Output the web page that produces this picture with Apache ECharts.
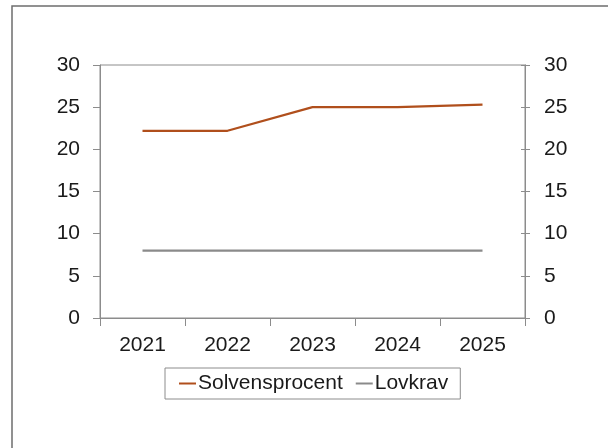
<!DOCTYPE html>
<html>
<head>
<meta charset="utf-8">
<style>
  html, body { margin: 0; padding: 0; background: #fff; }
  #chart { width: 608px; height: 448px; }
</style>
<script src="https://cdn.jsdelivr.net/npm/echarts@6/dist/echarts.min.js"></script>
</head>
<body>
<div id="chart"></div>
<script>
// Solvency ratio versus statutory requirement, 2021-2025
const years = ['2021', '2022', '2023', '2024', '2025'];
const solvensprocent = [22.2, 22.2, 25.0, 25.0, 25.3];
const lovkrav = [8, 8, 8, 8, 8];
const yTicks = { min: 0, max: 30, interval: 5 };

const axisGray = '#8c8c8c';
const font = 'Liberation Sans, Arial, sans-serif';
const labelSize = 21;

const chart = echarts.init(document.getElementById('chart'), null, { renderer: 'canvas' });

const valueAxisBase = {
  type: 'value',
  min: yTicks.min,
  max: yTicks.max,
  interval: yTicks.interval,
  splitLine: { show: false },
  axisLine: { show: true, lineStyle: { color: axisGray, width: 1 } }
};

chart.setOption({
  animation: false,
  backgroundColor: '#fff',
  textStyle: { fontFamily: font },
  grid: {
    left: 100, right: 83, top: 65, bottom: 130,
    show: true, borderColor: axisGray, borderWidth: 1, backgroundColor: 'transparent'
  },
  legend: {
    data: ['Solvensprocent', 'Lovkrav'],
    left: 165, top: 368,
    padding: [5, 12, 5, 14],
    borderColor: '#8c8c8c', borderWidth: 1,
    itemWidth: 17, itemHeight: 2, itemGap: 13,
    icon: 'rect',
    textStyle: { fontFamily: font, fontSize: labelSize, color: '#1a1a1a', padding: [0, 0, 0, -3] }
  },
  xAxis: {
    type: 'category',
    data: years,
    boundaryGap: true,
    axisLine: { show: true, lineStyle: { color: axisGray, width: 1 } },
    axisTick: { show: true, length: 8, inside: false, lineStyle: { color: axisGray } },
    axisLabel: { margin: 17, fontFamily: font, fontSize: labelSize, color: '#1a1a1a' }
  },
  yAxis: [
    Object.assign({}, valueAxisBase, {
      position: 'left',
      axisTick: { show: true, length: 7, inside: false, lineStyle: { color: axisGray } },
      axisLabel: { margin: 20, fontFamily: font, fontSize: labelSize, color: '#1a1a1a' }
    }),
    Object.assign({}, valueAxisBase, {
      position: 'right',
      axisTick: { show: true, length: 5, inside: false, lineStyle: { color: axisGray } },
      axisLabel: { margin: 19, fontFamily: font, fontSize: labelSize, color: '#1a1a1a' }
    }),
    Object.assign({}, valueAxisBase, {
      position: 'right',
      axisTick: { show: true, length: 4, inside: true, lineStyle: { color: axisGray } },
      axisLabel: { show: false }
    })
  ],
  series: [
    {
      name: 'Solvensprocent',
      type: 'line',
      data: solvensprocent,
      yAxisIndex: 0,
      symbol: 'none',
      lineStyle: { color: '#b04f1c', width: 2.2 },
      itemStyle: { color: '#b04f1c' }
    },
    {
      name: 'Lovkrav',
      type: 'line',
      data: lovkrav,
      yAxisIndex: 0,
      symbol: 'none',
      lineStyle: { color: '#8a8a8a', width: 2.2 },
      itemStyle: { color: '#8a8a8a' }
    }
  ],
  graphic: [
    {
      type: 'polyline',
      shape: { points: [[12, 448], [12, 6], [608, 6]] },
      style: { stroke: '#6e6e6e', lineWidth: 1.5, fill: null },
      silent: true
    }
  ]
});
</script>
</body>
</html>
